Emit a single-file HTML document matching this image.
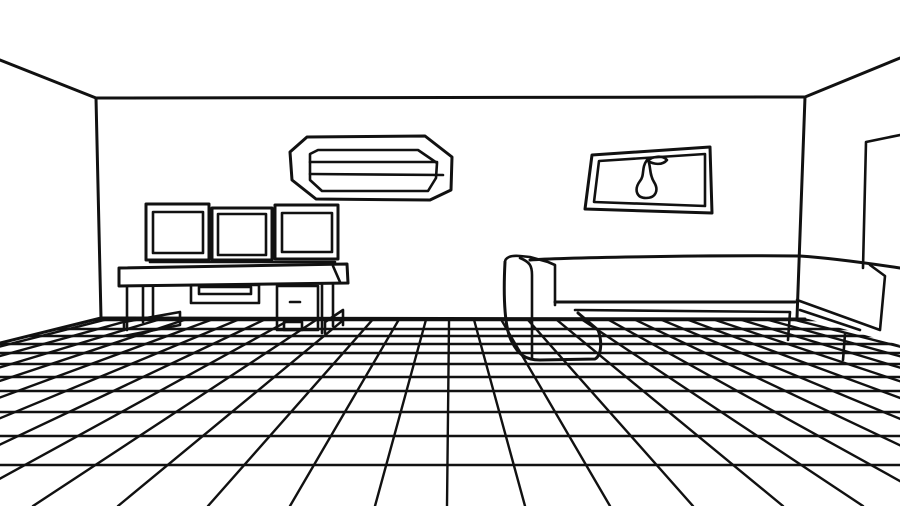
<!DOCTYPE html>
<html><head><meta charset="utf-8"><style>
html,body{margin:0;padding:0;background:#fff;}
svg{display:block;}
</style></head><body>
<svg width="900" height="506" viewBox="0 0 900 506" xmlns="http://www.w3.org/2000/svg">
<defs>
<clipPath id="floor"><polygon points="0,343 102,318 805,318 900,345 900,506 0,506"/></clipPath>
</defs>
<rect width="900" height="506" fill="#fff"/>
<g fill="none" stroke="#111" stroke-width="2.6" stroke-linecap="round" stroke-linejoin="round">
<g clip-path="url(#floor)" stroke-width="2.4">
<line x1="0" y1="320" x2="900" y2="320"/>
<line x1="0" y1="329" x2="900" y2="329"/>
<line x1="0" y1="336" x2="900" y2="336"/>
<line x1="0" y1="344" x2="900" y2="344"/>
<line x1="0" y1="353" x2="900" y2="353"/>
<line x1="0" y1="364" x2="900" y2="364"/>
<line x1="0" y1="377" x2="900" y2="377"/>
<line x1="0" y1="391" x2="900" y2="391"/>
<line x1="0" y1="412" x2="900" y2="412"/>
<line x1="0" y1="436" x2="900" y2="436"/>
<line x1="0" y1="465" x2="900" y2="465"/>
<line x1="450" y1="232" x2="-793" y2="506"/>
<line x1="450" y1="232" x2="-710" y2="506"/>
<line x1="450" y1="232" x2="-627" y2="506"/>
<line x1="450" y1="232" x2="-544" y2="506"/>
<line x1="450" y1="232" x2="-461" y2="506"/>
<line x1="450" y1="232" x2="-378" y2="506"/>
<line x1="450" y1="232" x2="-295" y2="506"/>
<line x1="450" y1="232" x2="-212" y2="506"/>
<line x1="450" y1="232" x2="-130" y2="506"/>
<line x1="450" y1="232" x2="-50" y2="506"/>
<line x1="450" y1="232" x2="33" y2="506"/>
<line x1="450" y1="232" x2="118" y2="506"/>
<line x1="450" y1="232" x2="208" y2="506"/>
<line x1="450" y1="232" x2="290" y2="506"/>
<line x1="450" y1="232" x2="375" y2="506"/>
<line x1="450" y1="232" x2="447" y2="506"/>
<line x1="450" y1="232" x2="525" y2="506"/>
<line x1="450" y1="232" x2="610" y2="506"/>
<line x1="450" y1="232" x2="693" y2="506"/>
<line x1="450" y1="232" x2="783" y2="506"/>
<line x1="450" y1="232" x2="863" y2="506"/>
<line x1="450" y1="232" x2="945" y2="506"/>
<line x1="450" y1="232" x2="1028" y2="506"/>
<line x1="450" y1="232" x2="1110" y2="506"/>
<line x1="450" y1="232" x2="1193" y2="506"/>
<line x1="450" y1="232" x2="1276" y2="506"/>
<line x1="450" y1="232" x2="1359" y2="506"/>
<line x1="450" y1="232" x2="1442" y2="506"/>
<line x1="450" y1="232" x2="1525" y2="506"/>
</g>
<polyline points="0,60 96,98 805,97 900,58" stroke-width="3"/>
<polyline points="96,98 101,318 0,343" stroke-width="3"/>
<line x1="101" y1="318" x2="805" y2="319" stroke-width="3"/>
<line x1="805" y1="97" x2="797" y2="318" stroke-width="3"/>
<polyline points="900,135 866,142 863,268"/>
<polygon points="290,152 307,137 425,136 452,157 451,190 430,200 316,199 292,180" stroke-width="3"/>
<polygon points="310,154 318,150 418,150 437,163 436,178 428,191 322,191 310,180"/>
<line x1="310" y1="162" x2="437" y2="162"/>
<line x1="310" y1="174" x2="443" y2="175"/>
<polygon points="592,155 710,147 712,213 585,209" stroke-width="3"/>
<polygon points="599,161 705,154 705,206 594,202"/>
<path d="M647,160 C641,168 645,175 640,181 C634,189 636,198 646,198 C656,198 659,190 654,182 C649,174 651,166 648,160 M648,161 C652,156 663,155 667,160 C662,166 653,164 648,161"/>
<rect x="146" y="204" width="63" height="56" stroke-width="3"/>
<rect x="153" y="212" width="50" height="41"/>
<rect x="212" y="208" width="60" height="52" stroke-width="3"/>
<rect x="218" y="214" width="48" height="41"/>
<rect x="275" y="205" width="63" height="54" stroke-width="3"/>
<rect x="282" y="213" width="50" height="39"/>
<line x1="150" y1="262" x2="335" y2="262"/>
<polygon points="119,268 347,264 348,283 119,286" stroke-width="3"/>
<line x1="333" y1="266" x2="340" y2="282"/>
<line x1="127" y1="286" x2="127" y2="330"/>
<line x1="143" y1="286" x2="143" y2="322"/>
<line x1="153" y1="286" x2="153" y2="318"/>
<rect x="191" y="285" width="68" height="18"/>
<rect x="199" y="287" width="52" height="7"/>
<rect x="277" y="286" width="41" height="44"/>
<line x1="290" y1="302" x2="300" y2="302"/>
<rect x="284" y="322" width="18" height="8"/>
<line x1="322" y1="285" x2="322" y2="333"/>
<line x1="333" y1="285" x2="333" y2="326"/>
<polyline points="124,330 124,322 180,312 180,325 124,336"/>
<polyline points="325,333 325,322 343,310 343,325"/>
<path d="M530,260 C555,258 700,255 800,256 C830,258 860,262 900,268" stroke-width="3"/>
<path d="M505,262 C503,300 505,330 512,342 C518,354 525,360 540,360 L595,359 C602,355 602,340 598,330 L578,313" stroke-width="3"/>
<path d="M505,262 C505,258 510,255 520,256 L530,257 L548,262 L555,265 L555,305"/>
<path d="M520,258 C530,262 532,266 532,275 L532,358"/>
<line x1="555" y1="302" x2="795" y2="302" stroke-width="3"/>
<polyline points="575,310 790,312 788,340"/>
<polyline points="797,300 880,330 885,276 870,265"/>
<polyline points="845,334 843,360"/>
<line x1="800" y1="310" x2="860" y2="330"/>
</g>
</svg>
</body></html>
